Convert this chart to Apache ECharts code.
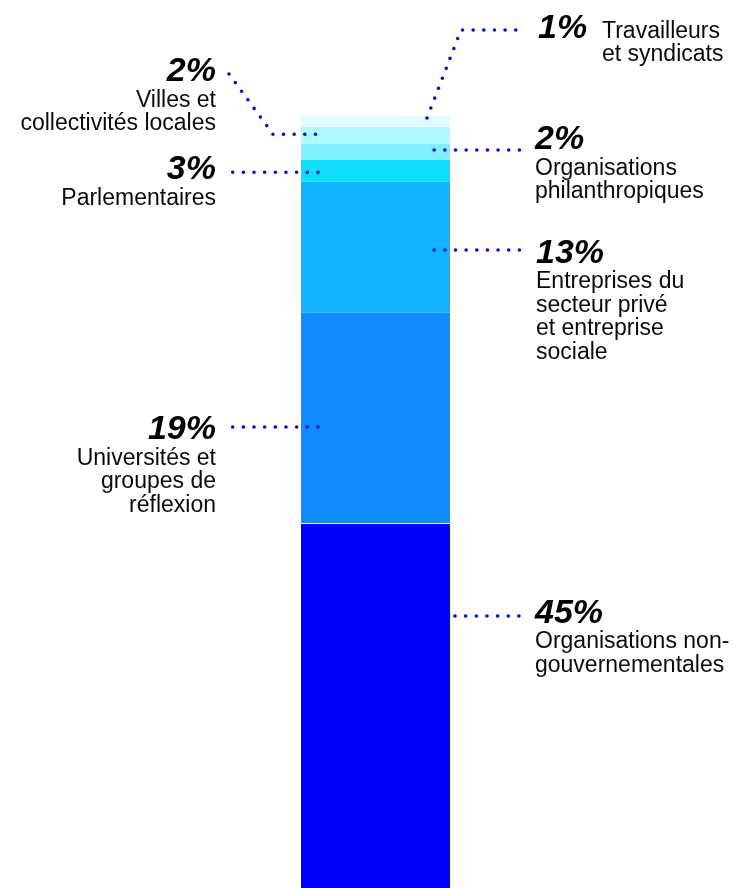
<!DOCTYPE html>
<html>
<head>
<meta charset="utf-8">
<script src="https://cdn.jsdelivr.net/npm/echarts@6/dist/echarts.min.js"></script>
<style>
html,body{margin:0;padding:0;background:#fff;}
#chart{width:740px;height:888px;}
</style>
</head>
<body>
<div id="chart"></div>
<script>
// Segments from bottom to top
const categories = [
  'Organisations non-\ngouvernementales',
  'Universités et\ngroupes de\nréflexion',
  'Entreprises du\nsecteur privé\net entreprise\nsociale',
  'Parlementaires',
  'Organisations\nphilanthropiques',
  'Villes et\ncollectivités locales',
  'Travailleurs\net syndicats'
];
const shareLabels = ['45%', '19%', '13%', '3%', '2%', '2%', '1%'];
// Bar segment heights (share of total bar height)
const barValues = [47.2, 27.3, 17.0, 2.8, 2.1, 2.2, 1.4];

// Styles and label layout (pixels)
const colors = ['#0000ff', '#118cff', '#11b4ff', '#0fdfff', '#7ff0ff', '#adfbff', '#e0fcff'];
const layout = [
  {side: 'right', x: 535, pctBase: 625,   leader: [[455, 616], [520.2, 616]]},
  {side: 'left',  x: 216, pctBase: 441.7, leader: [[232.7, 427], [318.2, 427]]},
  {side: 'right', x: 536, pctBase: 265,   leader: [[434.2, 250], [519.5, 250]]},
  {side: 'left',  x: 216, pctBase: 181.7, leader: [[232.7, 172.3], [318.2, 172.3]]},
  {side: 'right', x: 535, pctBase: 151.7, leader: [[434.2, 150], [519.5, 150]]},
  {side: 'left',  x: 216, pctBase: 83.3,  leader: [[229, 74], [273, 134.3], [318.5, 134.3]]},
  {side: 'right', x: 538, pctBase: 40.7,  inline: 602, leader: [[427, 118], [461, 30], [520.5, 30]]}
];

const BODY_FS = 23, BODY_LH = 23.4, PCT_FS = 34;
const FONT = '"Liberation Sans", Arial, Helvetica, sans-serif';
const DOT = '#0000ff';

const total = barValues.reduce((a, b) => a + b, 0);

const barSeries = barValues.map((v, i) => {
  const s = {
    type: 'bar',
    stack: 'total',
    data: [v],
    barWidth: '100%',
    itemStyle: {color: colors[i]},
    silent: true
  };
  if (i === 0) {
    s.markLine = {
      silent: true,
      symbol: 'none',
      label: {show: false},
      lineStyle: {color: '#ffffff', width: 1, type: 'solid'},
      data: [{yAxis: v}]
    };
  }
  return s;
});

function renderAnno(params, api) {
  const i = params.dataIndex;
  const L = layout[i];
  const children = [];
  children.push({
    type: 'polyline',
    z2: 10,
    shape: {points: L.leader},
    style: {stroke: DOT, lineWidth: 3.6, lineDash: [0, 10.65], lineCap: 'round', fill: null}
  });
  const pctTop = L.pctBase - (PCT_FS / 2 + 0.3465 * PCT_FS);
  children.push({
    type: 'text',
    style: {
      text: shareLabels[i], x: L.x, y: pctTop,
      font: 'italic bold ' + PCT_FS + 'px ' + FONT,
      lineHeight: PCT_FS,
      fill: '#000', align: L.side === 'left' ? 'right' : 'left', verticalAlign: 'top'
    }
  });
  let bodyBase, bodyX;
  if (L.inline) { bodyBase = L.pctBase - 1.4; bodyX = L.inline; }
  else { bodyBase = L.pctBase + 25; bodyX = L.x; }
  const bodyTop = bodyBase - (BODY_LH / 2 + 0.3465 * BODY_FS);
  children.push({
    type: 'text',
    style: {
      text: categories[i], x: bodyX, y: bodyTop,
      font: BODY_FS + 'px ' + FONT,
      lineHeight: BODY_LH,
      fill: '#0a0a0a', align: L.side === 'left' ? 'right' : 'left', verticalAlign: 'top'
    }
  });
  return {type: 'group', children: children};
}

const chart = echarts.init(document.getElementById('chart'), null, {renderer: 'canvas'});
chart.setOption({
  animation: false,
  backgroundColor: '#ffffff',
  grid: {left: 301, width: 149, top: 116, bottom: 0, containLabel: false},
  xAxis: {type: 'category', data: ['total'], show: false},
  yAxis: {type: 'value', min: 0, max: total, show: false},
  series: barSeries.concat([{
    type: 'custom',
    renderItem: renderAnno,
    data: categories.map((c, i) => i),
    clip: false,
    silent: true,
    z: 10
  }])
});
</script>
</body>
</html>
